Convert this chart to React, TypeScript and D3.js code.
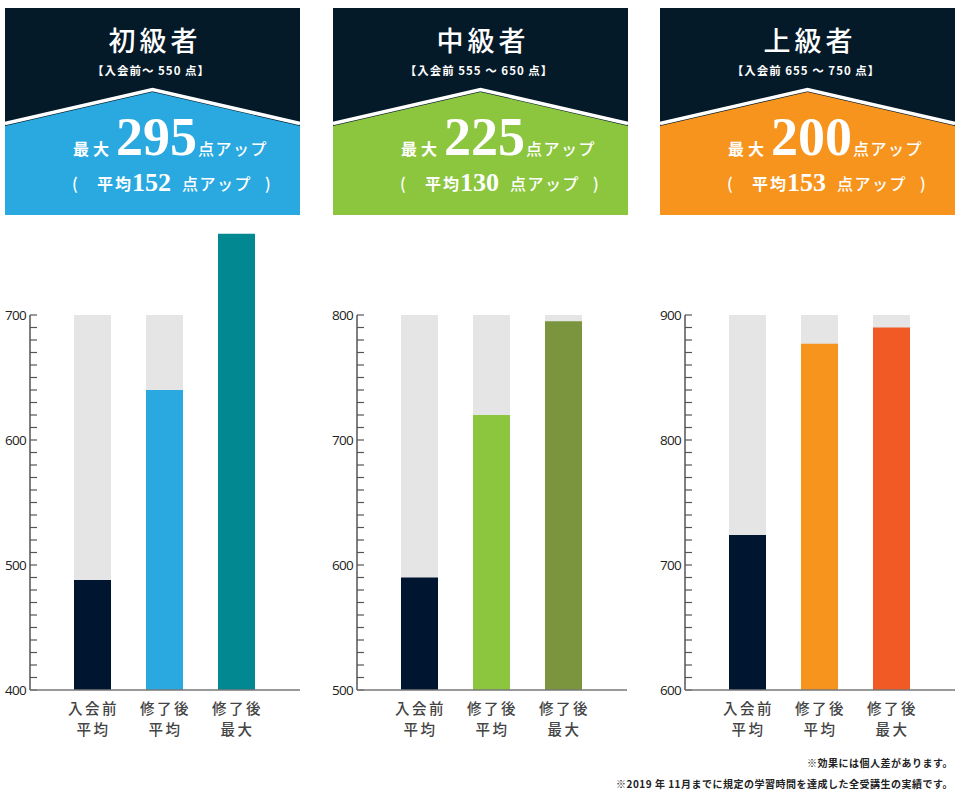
import React from "react";
import * as d3 from "d3";

const levels = ["初級者", "中級者", "上級者"];
const ranges = ["【入会前～ 550 点】", "【入会前 555 ～ 650 点】", "【入会前 655 ～ 750 点】"];
const maxUp = [295, 225, 200];
const avgUp = [152, 130, 153];
const categories = [["入会前", "平均"], ["修了後", "平均"], ["修了後", "最大"]];
const scoresBeginner = [488, 640, 765];
const scoresIntermediate = [590, 720, 795];
const scoresAdvanced = [724, 877, 890];
const axisDomains: [number, number][] = [[400, 700], [500, 800], [600, 900]];
const headerColors = ["#29a9e0", "#8cc63f", "#f7941e"];
const barColors = [
  ["#001530", "#29a9e0", "#028891"],
  ["#001530", "#8cc63f", "#7a953d"],
  ["#001530", "#f7941e", "#f15a24"],
];
const notes = ["※効果には個人差があります。", "※2019 年 11月までに規定の学習時間を達成した全受講生の実績です。"];

const allScores = [scoresBeginner, scoresIntermediate, scoresAdvanced];
const headerX = [5, 333, 660];
const axisX = [30, 357, 685];
const HEAD_W = 295;
const DARK = "#041a28";
const CJK = "'Noto Sans CJK JP', 'Noto Sans', sans-serif";
const SERIF = "'Liberation Serif', 'DejaVu Serif', serif";

function Header({ i }: { i: number }) {
  const x0 = headerX[i];
  const x1 = x0 + HEAD_W;
  const cx = x0 + HEAD_W / 2;
  return (
    <g>
      <rect x={x0} y={8} width={HEAD_W} height={207} fill={DARK} />
      <polygon
        points={`${x0},126 ${cx},92 ${x1},126 ${x1},215 ${x0},215`}
        fill={headerColors[i]}
      />
      <polyline
        points={`${x0},123.5 ${cx},89.5 ${x1},123.5`}
        fill="none"
        stroke="#fff"
        strokeWidth={3.5}
      />
      <text x={x0 + 150} y={51} textAnchor="middle" fill="#fff" fontFamily={CJK}
        fontSize={27} fontWeight={500} letterSpacing={4}>{levels[i]}</text>
      <text x={x0 + 146} y={75} textAnchor="middle" fill="#fff" fontFamily={CJK}
        fontSize={11.5} fontWeight={700} letterSpacing={1}>{ranges[i]}</text>
      <text x={x0 + 68} y={155} fill="#fff" fontFamily={CJK} fontSize={16}
        fontWeight={700} letterSpacing={4}>最大</text>
      <text x={x0 + 111} y={155} fill="#fff" fontFamily={SERIF} fontSize={54}
        fontWeight={700}>{maxUp[i]}</text>
      <text x={x0 + 193} y={155} fill="#fff" fontFamily={CJK} fontSize={16}
        fontWeight={500} letterSpacing={1.5}>点アップ</text>
      <text x={x0 + 67} y={190} fill="#fff" fontFamily={CJK} fontSize={16}
        fontWeight={500}>(</text>
      <text x={x0 + 92} y={190} fill="#fff" fontFamily={CJK} fontSize={16}
        fontWeight={700} letterSpacing={2}>平均</text>
      <text x={x0 + 127} y={191} fill="#fff" fontFamily={SERIF} fontSize={26}
        fontWeight={700}>{avgUp[i]}</text>
      <text x={x0 + 177} y={190} fill="#fff" fontFamily={CJK} fontSize={16}
        fontWeight={500} letterSpacing={1.5}>点アップ</text>
      <text x={x0 + 260} y={190} fill="#fff" fontFamily={CJK} fontSize={16}
        fontWeight={500}>)</text>
    </g>
  );
}

function Chart({ i }: { i: number }) {
  const ax = axisX[i];
  const dom = axisDomains[i];
  const y = d3.scaleLinear().domain(dom).range([690, 315]);
  const x = d3
    .scaleBand<number>()
    .domain(d3.range(categories.length))
    .range([ax + 44, ax + 225])
    .paddingInner(0.486)
    .paddingOuter(0);
  const major = y.ticks(3);
  const minor = d3.range(dom[0], dom[1] + 0.001, 10);
  const scores = allScores[i];
  return (
    <g>
      {scores.map((v, k) => (
        <g key={k}>
          <rect x={x(k)} y={y(dom[1])} width={x.bandwidth()} height={y(dom[0]) - y(dom[1])} fill="#e5e5e5" />
          <rect x={x(k)} y={y(v)} width={x.bandwidth()} height={y(dom[0]) - y(v)} fill={barColors[i][k]} />
          {categories[k].map((line, j) => (
            <text key={j} x={(x(k) as number) + x.bandwidth() / 2 + 1} y={714 + j * 21}
              textAnchor="middle" fill="#444" fontFamily={CJK} fontSize={14.5}
              fontWeight={500} letterSpacing={2.5}>{line}</text>
          ))}
        </g>
      ))}
      {minor.map((t) => (
        <line key={t} x1={ax} x2={ax + 7} y1={y(t)} y2={y(t)} stroke="#555" strokeWidth={1.2} />
      ))}
      <line x1={ax} x2={ax} y1={y(dom[1])} y2={y(dom[0])} stroke="#555" strokeWidth={1.5} />
      <line x1={ax} x2={ax + 270} y1={y(dom[0])} y2={y(dom[0])} stroke="#777" strokeWidth={1.5} />
      {major.map((t) => (
        <text key={t} x={ax - 4} y={y(t)} dy="0.35em" textAnchor="end" fill="#222"
          fontFamily="'Open Sans', sans-serif" fontSize={13.5} letterSpacing={-0.7}>{t}</text>
      ))}
    </g>
  );
}

export default function App() {
  return (
    <svg width={960} height={806} style={{ position: "absolute", left: 0, top: 0, background: "#fff" }}>
      {levels.map((_, i) => (
        <g key={i}>
          <Header i={i} />
          <Chart i={i} />
        </g>
      ))}
      {notes.map((n, k) => (
        <text key={k} x={953} y={767 + k * 21} textAnchor="end" fill="#222" fontFamily={CJK}
          fontSize={10} fontWeight={700} letterSpacing={0.5}>{n}</text>
      ))}
    </svg>
  );
}
